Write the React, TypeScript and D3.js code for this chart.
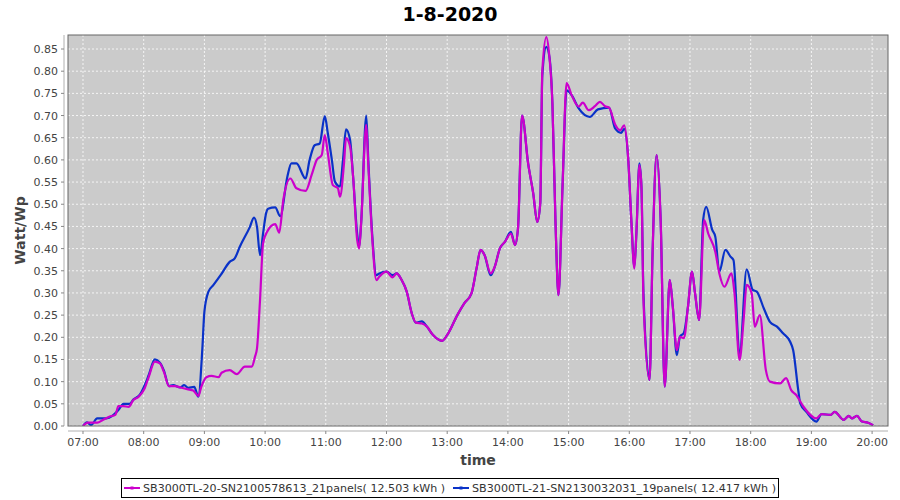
import React from "react";
import * as d3 from "d3";

const title = "1-8-2020";
const yTicks = [0, 0.05, 0.1, 0.15, 0.2, 0.25, 0.3, 0.35, 0.4, 0.45, 0.5, 0.55, 0.6, 0.65, 0.7, 0.75, 0.8, 0.85];
const xTickLabels = ["07:00", "08:00", "09:00", "10:00", "11:00", "12:00", "13:00", "14:00", "15:00", "16:00", "17:00", "18:00", "19:00", "20:00"];

const seriesNames = [
  "SB3000TL-20-SN2100578613_21panels( 12.503 kWh )",
  "SB3000TL-21-SN2130032031_19panels( 12.417 kWh )",
];
const seriesColors = ["#cc00cc", "#0a32c8"];

const magentaTimes = ["07:00","07:05","07:14","07:20","07:26","07:32","07:35","07:40","07:45","07:50","07:55","08:01","08:05","08:11","08:16","08:20","08:25","08:31","08:36","08:43","08:49","08:54","08:57","09:02","09:07","09:14","09:17","09:25","09:32","09:40","09:47","09:50","09:52","09:55","09:58","10:02","10:10","10:14","10:18","10:25","10:31","10:40","10:46","10:51","10:56","10:59","11:02","11:07","11:12","11:14","11:18","11:20","11:24","11:27","11:31","11:33","11:35","11:40","11:42","11:46","11:50","11:53","12:00","12:06","12:10","12:15","12:20","12:25","12:29","12:35","12:40","12:46","12:55","13:01","13:10","13:17","13:24","13:29","13:33","13:37","13:43","13:47","13:52","13:57","14:03","14:07","14:10","14:14","14:20","14:25","14:29","14:32","14:34","14:38","14:41","14:44","14:47","14:50","14:54","14:58","15:03","15:10","15:14","15:20","15:26","15:31","15:36","15:40","15:46","15:51","15:55","15:59","16:02","16:05","16:07","16:10","16:12","16:14","16:20","16:23","16:27","16:31","16:35","16:40","16:43","16:47","16:50","16:54","16:58","17:02","17:05","17:09","17:14","17:18","17:25","17:29","17:34","17:41","17:44","17:49","17:53","17:56","18:01","18:04","18:09","18:15","18:19","18:29","18:35","18:40","18:45","18:52","19:05","19:10","19:19","19:23","19:32","19:37","19:40","19:45","19:50","19:56","20:01"];
const magentaValues = [0.000,0.0075,0.0075,0.014,0.021,0.025,0.045,0.045,0.043,0.059,0.066,0.085,0.111,0.145,0.141,0.122,0.090,0.090,0.087,0.083,0.080,0.068,0.089,0.110,0.113,0.110,0.120,0.126,0.117,0.134,0.134,0.156,0.175,0.284,0.412,0.438,0.455,0.436,0.510,0.558,0.536,0.530,0.566,0.600,0.611,0.656,0.615,0.543,0.536,0.517,0.592,0.649,0.630,0.562,0.420,0.400,0.460,0.679,0.590,0.420,0.329,0.337,0.348,0.335,0.344,0.329,0.303,0.254,0.233,0.231,0.224,0.205,0.192,0.209,0.250,0.277,0.299,0.355,0.397,0.385,0.344,0.359,0.400,0.415,0.434,0.408,0.446,0.700,0.592,0.525,0.460,0.502,0.800,0.877,0.833,0.727,0.464,0.295,0.540,0.773,0.746,0.720,0.729,0.712,0.721,0.731,0.721,0.718,0.680,0.667,0.678,0.600,0.464,0.355,0.434,0.588,0.540,0.284,0.104,0.389,0.611,0.464,0.089,0.329,0.269,0.171,0.201,0.198,0.269,0.348,0.299,0.239,0.464,0.434,0.393,0.344,0.314,0.344,0.299,0.149,0.239,0.318,0.299,0.224,0.250,0.126,0.100,0.096,0.108,0.081,0.070,0.044,0.017,0.027,0.025,0.032,0.014,0.023,0.017,0.023,0.010,0.0075,0.002];

const blueTimes = ["07:00","07:04","07:08","07:14","07:20","07:26","07:32","07:35","07:40","07:46","07:50","07:56","08:01","08:05","08:11","08:16","08:20","08:25","08:29","08:36","08:40","08:44","08:50","08:54","08:58","09:00","09:04","09:09","09:16","09:25","09:30","09:35","09:45","09:49","09:52","09:55","09:58","10:01","10:03","10:10","10:15","10:22","10:26","10:31","10:40","10:44","10:49","10:54","10:59","11:02","11:06","11:09","11:14","11:17","11:20","11:24","11:27","11:31","11:33","11:35","11:40","11:42","11:46","11:50","11:53","12:00","12:06","12:10","12:15","12:20","12:25","12:29","12:35","12:40","12:46","12:55","13:01","13:10","13:17","13:24","13:29","13:33","13:37","13:43","13:47","13:52","13:57","14:03","14:07","14:10","14:14","14:20","14:25","14:29","14:32","14:34","14:38","14:41","14:44","14:47","14:50","14:54","14:58","15:03","15:10","15:21","15:29","15:40","15:46","15:52","15:55","15:59","16:02","16:05","16:07","16:10","16:12","16:14","16:20","16:23","16:27","16:31","16:35","16:40","16:43","16:47","16:50","16:54","16:58","17:02","17:05","17:09","17:13","17:16","17:22","17:25","17:29","17:35","17:40","17:43","17:49","17:56","18:02","18:06","18:13","18:19","18:26","18:32","18:39","18:42","18:47","18:49","18:55","19:05","19:10","19:19","19:23","19:32","19:37","19:40","19:45","19:50","19:56","20:01"];
const blueValues = [0.000,0.008,0.002,0.017,0.017,0.019,0.029,0.036,0.050,0.050,0.060,0.070,0.092,0.115,0.150,0.143,0.125,0.090,0.092,0.087,0.092,0.086,0.088,0.066,0.175,0.258,0.303,0.318,0.340,0.370,0.378,0.404,0.449,0.470,0.449,0.385,0.434,0.480,0.490,0.493,0.473,0.562,0.592,0.592,0.558,0.600,0.633,0.637,0.699,0.660,0.600,0.551,0.540,0.600,0.669,0.645,0.562,0.434,0.404,0.460,0.700,0.600,0.427,0.340,0.344,0.348,0.340,0.344,0.329,0.303,0.254,0.233,0.236,0.224,0.205,0.192,0.209,0.250,0.277,0.299,0.355,0.397,0.385,0.340,0.359,0.400,0.415,0.438,0.408,0.446,0.700,0.592,0.525,0.460,0.502,0.790,0.855,0.833,0.727,0.464,0.295,0.540,0.757,0.746,0.716,0.697,0.714,0.718,0.671,0.661,0.670,0.600,0.464,0.359,0.434,0.592,0.540,0.299,0.104,0.389,0.611,0.464,0.089,0.329,0.269,0.160,0.201,0.210,0.269,0.348,0.299,0.239,0.464,0.494,0.442,0.427,0.348,0.397,0.382,0.374,0.160,0.353,0.307,0.303,0.265,0.235,0.224,0.209,0.190,0.171,0.081,0.051,0.032,0.010,0.027,0.025,0.032,0.014,0.023,0.017,0.023,0.010,0.0075,0.002];

const toHours = (s: string) => {
  const [h, m] = s.split(":").map(Number);
  return h + m / 60;
};

export default function App() {
  const W = 900, H = 500;
  const L = 68, R = 888, T = 35, B = 426;
  const x = d3.scaleLinear().domain([6.753, 20.262]).range([L, R]);
  const y = d3.scaleLinear().domain([0, 0.8816]).range([B, T]);
  const line = d3
    .line<[number, number]>()
    .x((d) => x(d[0]))
    .y((d) => y(d[1]))
    .curve(d3.curveMonotoneX);
  const mag: [number, number][] = magentaTimes.map((t, i) => [toHours(t), magentaValues[i]]);
  const blu: [number, number][] = blueTimes.map((t, i) => [toHours(t), blueValues[i]]);
  const font = "'DejaVu Sans', Verdana, sans-serif";
  const axisY = 64;
  const axisX = 431;

  return (
    <svg width={W} height={H} style={{ display: "block", position: "absolute", left: 0, top: 0 }} fontFamily={font}>
      <rect x={0} y={0} width={W} height={H} fill="#ffffff" />
      <text x={450} y={21} textAnchor="middle" fontSize={19} fontWeight="bold" fill="#000">{title}</text>
      <rect x={L} y={T} width={R - L} height={B - T} fill="#cbcbcb" />
      {yTicks.map((v) => (
        <line key={"gy" + v} x1={L} x2={R} y1={y(v)} y2={y(v)} stroke="#ffffff" strokeWidth={0.8} strokeDasharray="2,2" />
      ))}
      {xTickLabels.map((s) => (
        <line key={"gx" + s} x1={x(toHours(s))} x2={x(toHours(s))} y1={T} y2={B} stroke="#ffffff" strokeWidth={0.8} strokeDasharray="2,2" />
      ))}
      <defs>
        <clipPath id="clip">
          <rect x={L} y={T} width={R - L} height={B - T} />
        </clipPath>
      </defs>
      <g clipPath="url(#clip)">
        <path d={line(blu) || ""} fill="none" stroke={seriesColors[1]} strokeWidth={2.2} />
        <path d={line(mag) || ""} fill="none" stroke={seriesColors[0]} strokeWidth={2.2} />
      </g>
      <rect x={L} y={T} width={R - L} height={B - T} fill="none" stroke="#666666" strokeWidth={1} />
      {/* y axis */}
      <line x1={axisY} x2={axisY} y1={T} y2={B} stroke="#b0b0b0" />
      {yTicks.map((v) => (
        <g key={"ty" + v}>
          <line x1={axisY - 3} x2={axisY} y1={y(v)} y2={y(v)} stroke="#888" />
          <text x={axisY - 6} y={y(v) + 4} textAnchor="end" fontSize={11} fill="#444">{v.toFixed(2)}</text>
        </g>
      ))}
      {/* x axis */}
      <line x1={L} x2={R} y1={axisX} y2={axisX} stroke="#b0b0b0" />
      {xTickLabels.map((s) => (
        <g key={"tx" + s}>
          <line x1={x(toHours(s))} x2={x(toHours(s))} y1={axisX} y2={axisX + 3} stroke="#888" />
          <text x={x(toHours(s))} y={axisX + 15} textAnchor="middle" fontSize={11} fill="#444">{s}</text>
        </g>
      ))}
      <text x={478} y={465} textAnchor="middle" fontSize={14} fontWeight="bold" fill="#444">time</text>
      <text transform={`translate(25,${(T + B) / 2}) rotate(-90)`} textAnchor="middle" fontSize={14} fontWeight="bold" fill="#444">Watt/Wp</text>
      {/* legend */}
      <rect x={121.5} y={478.5} width={657} height={19} fill="#fff" stroke="#000" strokeWidth={1} />
      <line x1={124} x2={140} y1={488} y2={488} stroke={seriesColors[0]} strokeWidth={2} />
      <rect x={130.5} y={486.5} width={3} height={3} fill={seriesColors[0]} />
      <text x={143} y={492} fontSize={11.3} fill="#333" textLength={302} lengthAdjust="spacingAndGlyphs">{seriesNames[0]}</text>
      <line x1={453} x2={469} y1={488} y2={488} stroke={seriesColors[1]} strokeWidth={2} />
      <rect x={459.5} y={486.5} width={3} height={3} fill={seriesColors[1]} />
      <text x={472} y={492} fontSize={11.3} fill="#333" textLength={304} lengthAdjust="spacingAndGlyphs">{seriesNames[1]}</text>
    </svg>
  );
}
